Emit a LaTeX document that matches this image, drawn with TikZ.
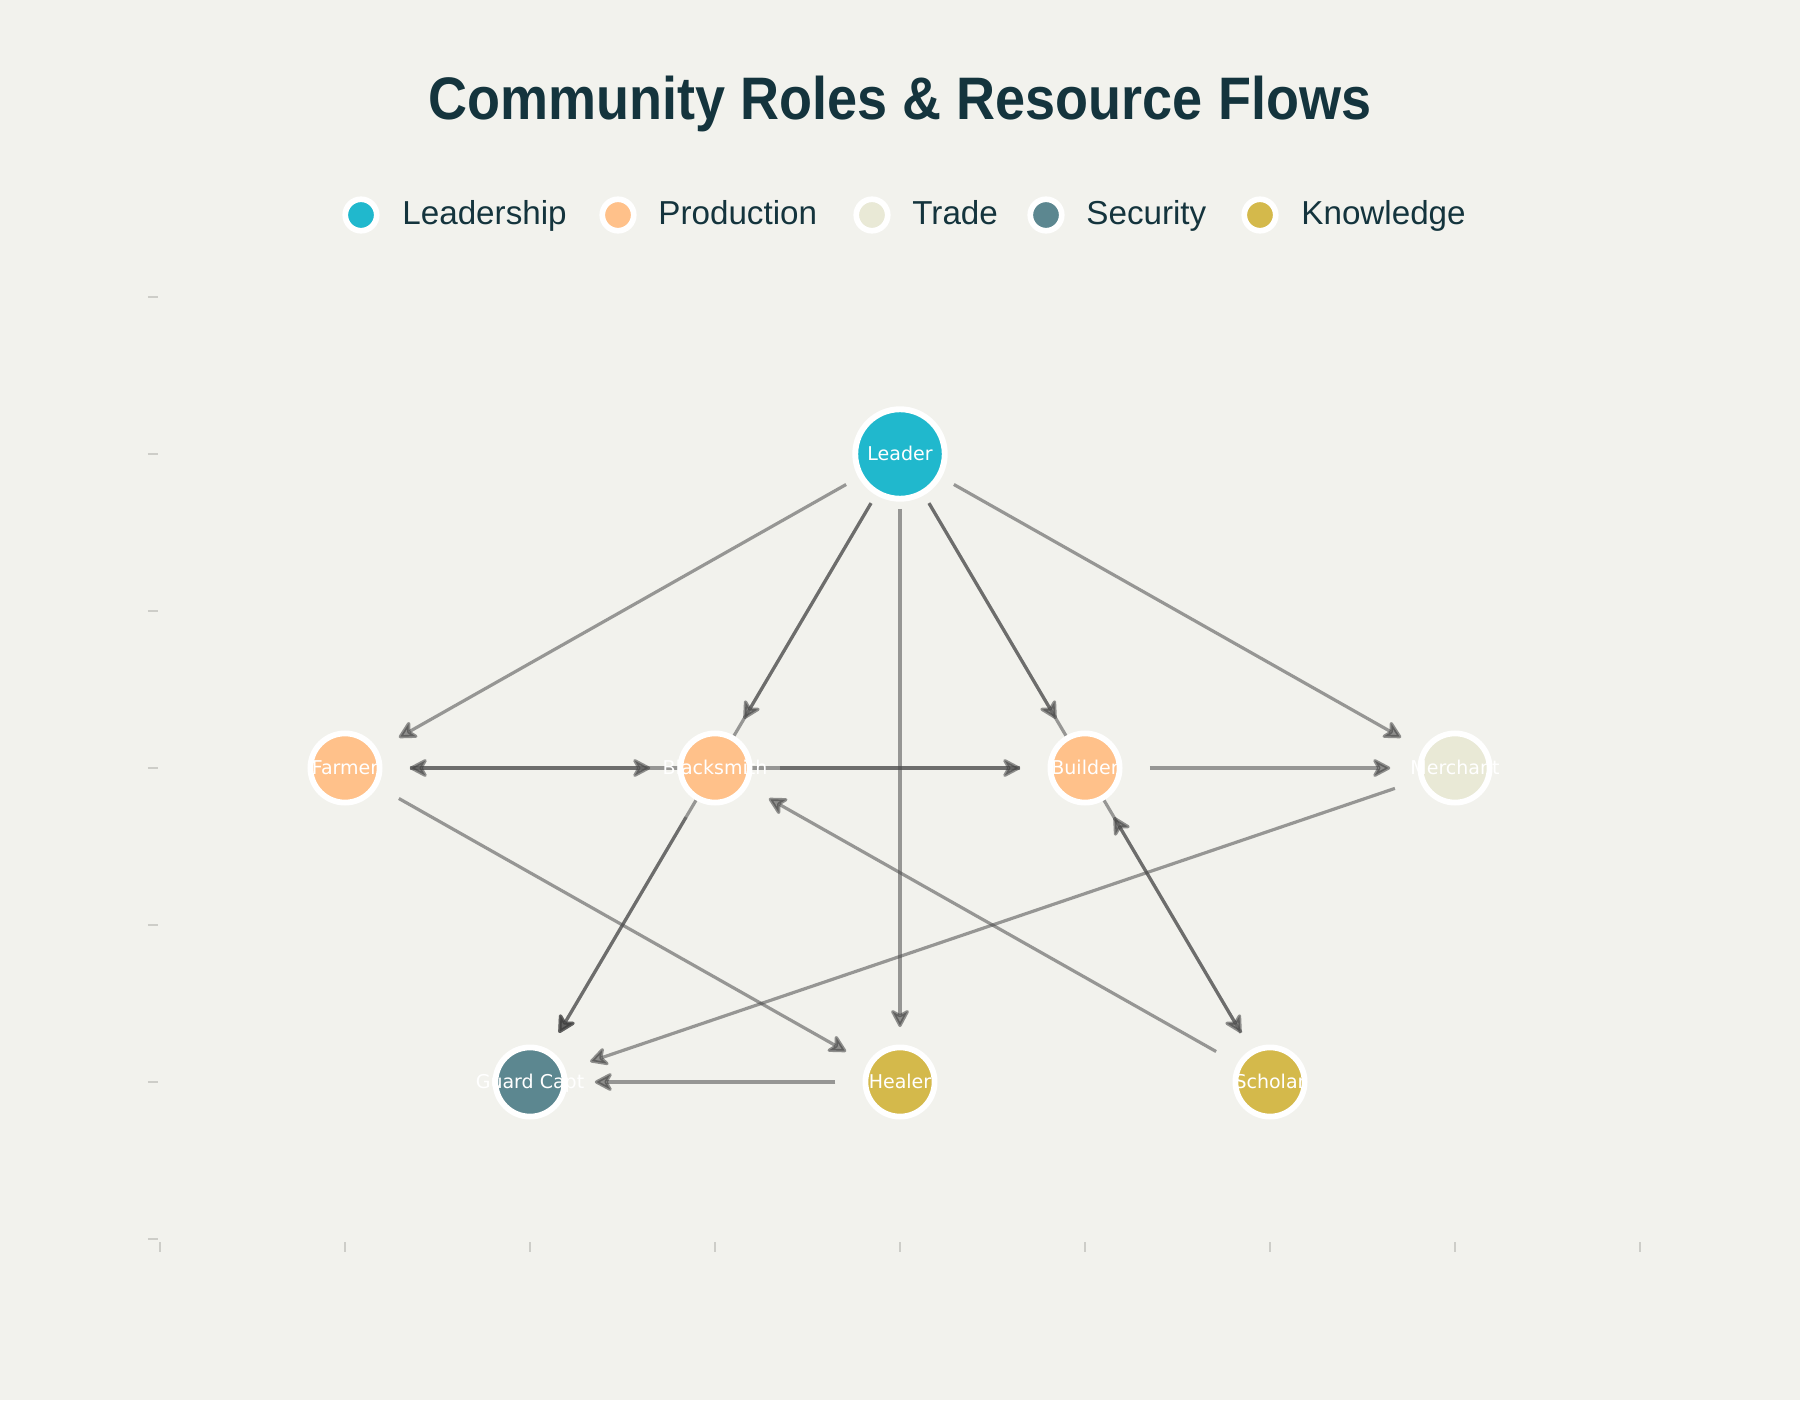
\documentclass[tikz,border=0pt]{standalone}
\usepackage{fontspec}
\usepackage{graphicx}
\setmainfont{Liberation Sans}
\newfontfamily\labelfont{DejaVu Sans}
\usetikzlibrary{arrows.meta,calc,backgrounds}

\definecolor{bgcol}{RGB}{242,242,237}
\definecolor{inkcol}{RGB}{20,52,61}
\definecolor{tickcol}{RGB}{205,205,200}
\definecolor{leadcol}{RGB}{32,184,205}
\definecolor{prodcol}{RGB}{255,193,138}
\definecolor{tradecol}{RGB}{233,233,214}
\definecolor{seccol}{RGB}{92,135,144}
\definecolor{knowcol}{RGB}{212,185,75}

\tikzset{
  role/.style={circle, inner sep=0pt, minimum size=34.6pt, draw=white, line width=2.9pt},
  bigrole/.style={role, minimum size=44.75pt, line width=2.95pt},
  rolelabel/.style={anchor=base, inner sep=0pt, text=white,
    font=\labelfont\fontsize{9.5pt}{11pt}\selectfont, yshift=-3.46pt},
  flow/.style={line width=1.6pt, draw=black!70, opacity=0.55,
    -{Stealth[length=10.5pt,width=11pt,inset=3pt,round,color=black!76]}},
  legdot/.style={circle, inner sep=0pt, minimum size=15.75pt, draw=white, line width=2.85pt},
  legtext/.style={anchor=base west, inner sep=0pt, text=inkcol,
    font=\fontsize{16.6pt}{19pt}\selectfont},
  axistick/.style={draw=tickcol, line width=0.6pt},
}

\begin{document}
\begin{tikzpicture}[x=92.5pt, y=78.5pt]
\useasboundingbox (-0.864865,-1.025478) rectangle (8.864865,7.891720);
\begin{pgfonlayer}{background}
  \fill[bgcol] (-0.864865,-1.025478) rectangle (8.864865,7.891720);
\end{pgfonlayer}

% axis ticks
\foreach \k in {0,...,6}
  \draw[axistick] ([xshift=-6pt]0,\k) -- ([xshift=-1pt]0,\k);
\foreach \k in {0,...,8}
  \draw[axistick] ([yshift=-1.5pt]\k,0) -- ([yshift=-6.5pt]\k,0);

% title
\node[anchor=base, inner sep=0pt, text=inkcol,
      font=\bfseries\fontsize{30pt}{36pt}\selectfont] (title) at (4,7.1306)
  {\scalebox{0.9}[1]{Community Roles \& Resource Flows}};

% legend
\node[legdot, fill=leadcol]  (lg1) at (1.0865,6.5223) {};
\node[legtext] (lt1) at (1.3081,6.4586) {Leadership};
\node[legdot, fill=prodcol]  (lg2) at (2.4757,6.5223) {};
\node[legtext] (lt2) at (2.6919,6.4586) {Production};
\node[legdot, fill=tradecol] (lg3) at (3.8486,6.5223) {};
\node[legtext] (lt3) at (4.0649,6.4586) {Trade};
\node[legdot, fill=seccol]   (lg4) at (4.7892,6.5223) {};
\node[legtext] (lt4) at (5.0054,6.4586) {Security};
\node[legdot, fill=knowcol]  (lg5) at (5.9459,6.5223) {};
\node[legtext] (lt5) at (6.1676,6.4586) {Knowledge};

% roles
\node[bigrole, fill=leadcol] (leader)   at (4,5) {};
\node[role, fill=prodcol]    (farmer)   at (1,3) {};
\node[role, fill=prodcol]    (smith)    at (3,3) {};
\node[role, fill=prodcol]    (builder)  at (5,3) {};
\node[role, fill=tradecol]   (merchant) at (7,3) {};
\node[role, fill=seccol]     (guard)    at (2,1) {};
\node[role, fill=knowcol]    (healer)   at (4,1) {};
\node[role, fill=knowcol]    (scholar)  at (6,1) {};

\node[rolelabel] (leader-t)   at (leader.center)   {Leader};
\node[rolelabel] (farmer-t)   at (farmer.center)   {Farmer};
\node[rolelabel] (smith-t)    at (smith.center)    {Blacksmith};
\node[rolelabel] (builder-t)  at (builder.center)  {Builder};
\node[rolelabel] (merchant-t) at (merchant.center) {Merchant};
\node[rolelabel] (guard-t)    at (guard.center)    {Guard Capt};
\node[rolelabel] (healer-t)   at (healer.center)   {Healer};
\node[rolelabel] (scholar-t)  at (scholar.center)  {Scholar};

% resource flows, kept under the role circles
\begin{pgfonlayer}{background}
  \draw[flow] ($(leader.center)!0.09707!(farmer.center)$)   -- ($(farmer.center)!0.09707!(leader.center)$);
  \draw[flow] ($(leader.center)!0.15652!(smith.center)$)    -- ($(smith.center)!0.15652!(leader.center)$);
  \draw[flow] ($(leader.center)!0.078262!(guard.center)$)   -- ($(guard.center)!0.078262!(leader.center)$);
  \draw[flow] ($(leader.center)!0.0875!(healer.center)$)    -- ($(healer.center)!0.0875!(leader.center)$);
  \draw[flow] ($(leader.center)!0.15652!(builder.center)$)  -- ($(builder.center)!0.15652!(leader.center)$);
  \draw[flow] ($(leader.center)!0.078262!(scholar.center)$) -- ($(scholar.center)!0.078262!(leader.center)$);
  \draw[flow] ($(leader.center)!0.09707!(merchant.center)$) -- ($(merchant.center)!0.09707!(leader.center)$);
  \draw[flow] ($(farmer.center)!0.175!(smith.center)$)      -- ($(smith.center)!0.175!(farmer.center)$);
  \draw[flow] ($(builder.center)!0.0875!(farmer.center)$)   -- ($(farmer.center)!0.0875!(builder.center)$);
  \draw[flow] ($(smith.center)!0.175!(builder.center)$)     -- ($(builder.center)!0.175!(smith.center)$);
  \draw[flow] ($(builder.center)!0.175!(merchant.center)$)  -- ($(merchant.center)!0.175!(builder.center)$);
  \draw[flow] ($(farmer.center)!0.09707!(healer.center)$)   -- ($(healer.center)!0.09707!(farmer.center)$);
  \draw[flow] ($(smith.center)!0.15652!(guard.center)$)     -- ($(guard.center)!0.15652!(smith.center)$);
  \draw[flow] ($(merchant.center)!0.06499!(guard.center)$)  -- ($(guard.center)!0.06499!(merchant.center)$);
  \draw[flow] ($(healer.center)!0.175!(guard.center)$)      -- ($(guard.center)!0.175!(healer.center)$);
  \draw[flow] ($(scholar.center)!0.09707!(smith.center)$)   -- ($(smith.center)!0.09707!(scholar.center)$);
  \draw[flow] ($(scholar.center)!0.15652!(builder.center)$) -- ($(builder.center)!0.15652!(scholar.center)$);
\end{pgfonlayer}
\end{tikzpicture}
\end{document}
